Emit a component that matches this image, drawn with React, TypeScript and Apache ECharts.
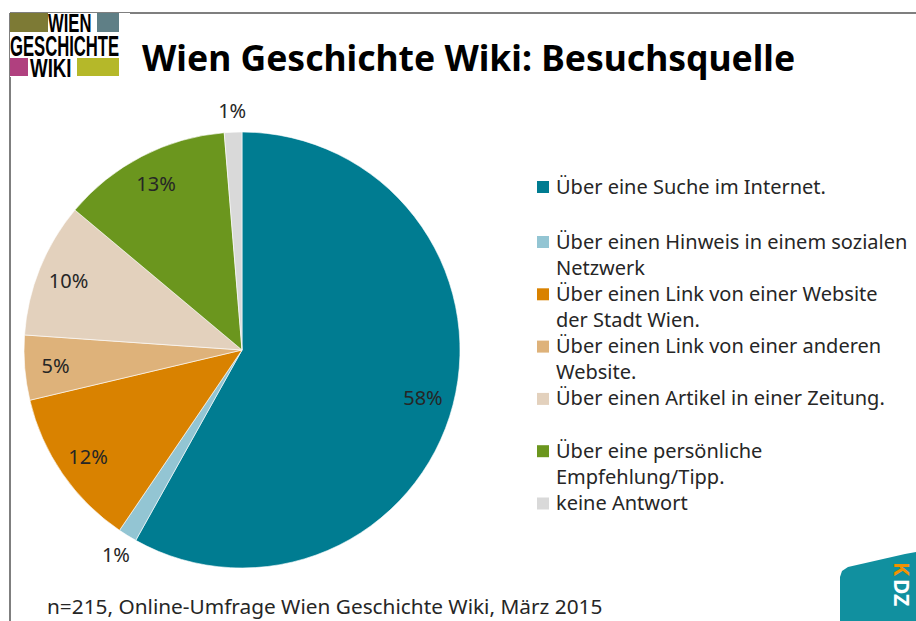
import React, { useEffect, useRef } from "react";
import * as echarts from "echarts";

const categories = [
  "Über eine Suche im Internet.",
  "Über einen Hinweis in einem sozialen Netzwerk",
  "Über einen Link von einer Website der Stadt Wien.",
  "Über einen Link von einer anderen Website.",
  "Über einen Artikel in einer Zeitung.",
  "Über eine persönliche Empfehlung/Tipp.",
  "keine Antwort",
];
const legendLines = [
  ["Über eine Suche im Internet."],
  ["Über einen Hinweis in einem sozialen", "Netzwerk"],
  ["Über einen Link von einer Website", "der Stadt Wien."],
  ["Über einen Link von einer anderen", "Website."],
  ["Über einen Artikel in einer Zeitung."],
  ["Über eine persönliche", "Empfehlung/Tipp."],
  ["keine Antwort"],
];
const shares = [58.1, 1.4, 11.8, 4.8, 10.0, 12.6, 1.3];
const colors = ["#007C91", "#93C5D3", "#D98200", "#DEB27A", "#E3D1BD", "#6B961E", "#D9D9D9"];

const title = "Wien Geschichte Wiki: Besuchsquelle";
const footnote = "n=215, Online-Umfrage Wien Geschichte Wiki, März 2015";

const FAMILY = "'Noto Sans', 'Open Sans', sans-serif";

export default function App() {
  const ref = useRef<HTMLDivElement>(null);
  useEffect(() => {
    if (!ref.current) return;
    const chart = echarts.init(ref.current, undefined, { renderer: "svg" });
    const cx = 242, cy = 350, R = 218;
    const data = categories.map((name, i) => ({
      name,
      value: shares[i],
      itemStyle: { color: colors[i] },
    }));
    const fmt = (p: any) => Math.round(p.value) + "%";
    const small = (v: number) => v < 3;

    const legendGraphics: any[] = [];
    categories.forEach((_, i) => {
      const y = i === 0 ? 186 : 241 + (i - 1) * 52.3;
      legendGraphics.push({
        type: "rect",
        shape: { x: 537, y: y - 5, width: 12, height: 12 },
        style: { fill: colors[i] },
      });
      legendLines[i].forEach((line, j) => {
        legendGraphics.push({
          type: "text",
          x: 556,
          y: y + j * 26,
          style: {
            text: line,
            font: `20px ${FAMILY}`,
            fill: "#262626",
            verticalAlign: "middle",
          },
        });
      });
    });

    const logoText = (text: string, x: number, y: number, size: number, sx: number) => ({
      type: "text",
      x,
      y,
      scaleX: sx,
      style: {
        text,
        font: `bold ${size}px 'Liberation Sans', Arial, sans-serif`,
        fill: "#000",
        verticalAlign: "middle",
      },
    });

    const labelStyle = {
      show: true,
      position: "inside",
      fontSize: 20,
      fontFamily: FAMILY,
      color: "#262626",
    };

    chart.setOption({
      animation: false,
      backgroundColor: "#fff",
      graphic: [
        { type: "line", shape: { x1: 10, y1: 13, x2: 10, y2: 621 }, style: { stroke: "#7f7f7f", lineWidth: 2 } },
        { type: "line", shape: { x1: 10, y1: 13, x2: 916, y2: 13 }, style: { stroke: "#7f7f7f", lineWidth: 2 } },
        { type: "rect", shape: { x: 10, y: 13, width: 120, height: 64 }, style: { fill: "#fff" } },
        { type: "rect", shape: { x: 10, y: 13, width: 38, height: 19 }, style: { fill: "#7D7A35" } },
        { type: "rect", shape: { x: 97, y: 13, width: 22, height: 19 }, style: { fill: "#5F7F86" } },
        { type: "rect", shape: { x: 10, y: 58, width: 18, height: 18 }, style: { fill: "#B0407F" } },
        { type: "rect", shape: { x: 77, y: 58, width: 42, height: 18 }, style: { fill: "#B5B829" } },
        logoText("WIEN", 48, 23.5, 26, 0.64),
        logoText("GESCHICHTE", 10, 45, 30, 0.555),
        logoText("WIKI", 30, 68, 26, 0.72),
        {
          type: "text",
          x: 142,
          y: 57,
          style: {
            text: title,
            font: `bold 35.5px ${FAMILY}`,
            fill: "#000",
            verticalAlign: "middle",
          },
        },
        {
          type: "text",
          x: 47,
          y: 606,
          style: { text: footnote, font: `20.8px ${FAMILY}`, fill: "#262626", verticalAlign: "middle" },
        },
        {
          type: "polygon",
          shape: {
            points: [
              [840, 577], [842, 571], [848, 567], [905, 554], [916, 552], [916, 621], [840, 621],
            ],
          },
          style: { fill: "#11909F" },
        },
        {
          type: "text",
          x: 902,
          y: 562,
          rotation: -Math.PI / 2,
          style: {
            text: "{k|K}{d|DZ}",
            rich: {
              k: { font: `bold 21px ${FAMILY}`, fill: "#F39200", padding: [0, 3, 0, 0] },
              d: { font: `bold 21px ${FAMILY}`, fill: "#fff" },
            },
            verticalAlign: "middle",
          },
        },
        ...legendGraphics,
      ],
      series: [
        {
          type: "pie",
          center: [cx, cy],
          radius: [0, R],
          startAngle: 90,
          clockwise: true,
          silent: true,
          label: { show: false },
          labelLine: { show: false },
          itemStyle: { borderColor: "#fff", borderWidth: 0.6 },
          data,
        },
        {
          type: "pie",
          center: [cx, cy],
          radius: [150, R],
          startAngle: 90,
          clockwise: true,
          silent: true,
          itemStyle: { color: "transparent" },
          label: { ...labelStyle, formatter: (p: any) => (small(p.value) ? "" : fmt(p)) },
          labelLine: { show: false },
          data: data.map((d) => ({ name: d.name, value: d.value, itemStyle: { color: "transparent" } })),
        },
        {
          type: "pie",
          center: [cx, cy],
          radius: [222, 252],
          startAngle: 90,
          clockwise: true,
          silent: true,
          itemStyle: { color: "transparent" },
          label: { ...labelStyle, formatter: (p: any) => (small(p.value) ? fmt(p) : "") },
          labelLine: { show: false },
          data: data.map((d) => ({ name: d.name, value: d.value, itemStyle: { color: "transparent" } })),
        },
      ],
    });
    return () => chart.dispose();
  }, []);
  return <div ref={ref} style={{ width: 916, height: 621, position: "absolute", left: 0, top: 0 }} />;
}
